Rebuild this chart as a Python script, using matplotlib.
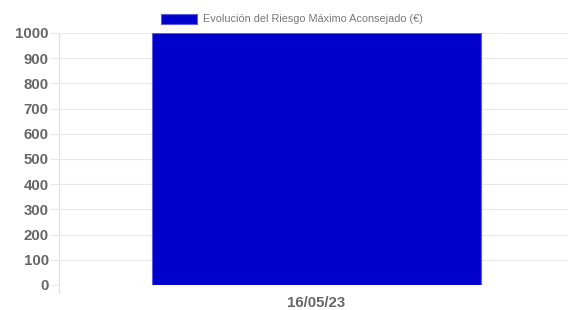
import matplotlib
matplotlib.use("Agg")
import matplotlib.pyplot as plt
from matplotlib.patches import Rectangle

categories = ["16/05/23"]
values = [1000]
series_label = "Evolución del Riesgo Máximo Aconsejado (€)"
y_ticks = list(range(0, 1001, 100))

W, H = 568, 310
fig = plt.figure(figsize=(W/100, H/100), dpi=100)
ax_left, ax_right, ax_top, ax_bottom = 59, 568, 33, 285
ax = fig.add_axes([ax_left/W, (H-ax_bottom)/H, (ax_right-ax_left)/W, (ax_bottom-ax_top)/H])

x = list(range(len(categories)))
ax.bar(x, values, width=1.0, color="#0000CC", edgecolor="#5c5ce0", linewidth=0.8, zorder=3)
ax.set_xlim(-0.7827, 0.7644)
ax.set_ylim(0, 1000)
ax.set_yticks(y_ticks)
ax.set_xticks(x)
ax.set_xticklabels(categories)

for s in ax.spines.values():
    s.set_visible(False)
ax.grid(axis="y", color="#e8e8e8", linewidth=0.8, zorder=0)
ax.axvline(-0.7827, color="#e0e0e0", linewidth=0.8, zorder=1, clip_on=False)
ax.tick_params(axis="y", length=6.5, color="#e8e8e8", width=0.8, pad=0.8,
               labelsize=10.8, labelcolor="#666666")
ax.tick_params(axis="x", length=0, pad=8, labelsize=10.8, labelcolor="#666666")
for lab in ax.get_yticklabels() + ax.get_xticklabels():
    lab.set_fontfamily("Liberation Sans")
    lab.set_fontweight("bold")
ax.plot([-0.7827, -0.7827], [0, -30], color="#e0e0e0", linewidth=0.8, clip_on=False, zorder=1)

# legend
fig.patches.append(Rectangle((161/W, (H-24)/H), 36/W, 10/H, transform=fig.transFigure,
                             facecolor="#0000CC", edgecolor="#5c5ce0", linewidth=0.8))
fig.text(203/W, (H-19)/H, series_label, fontsize=7.8, color="#777777",
         family="Liberation Sans", va="center", ha="left")

fig.savefig("out.png", dpi=100)
